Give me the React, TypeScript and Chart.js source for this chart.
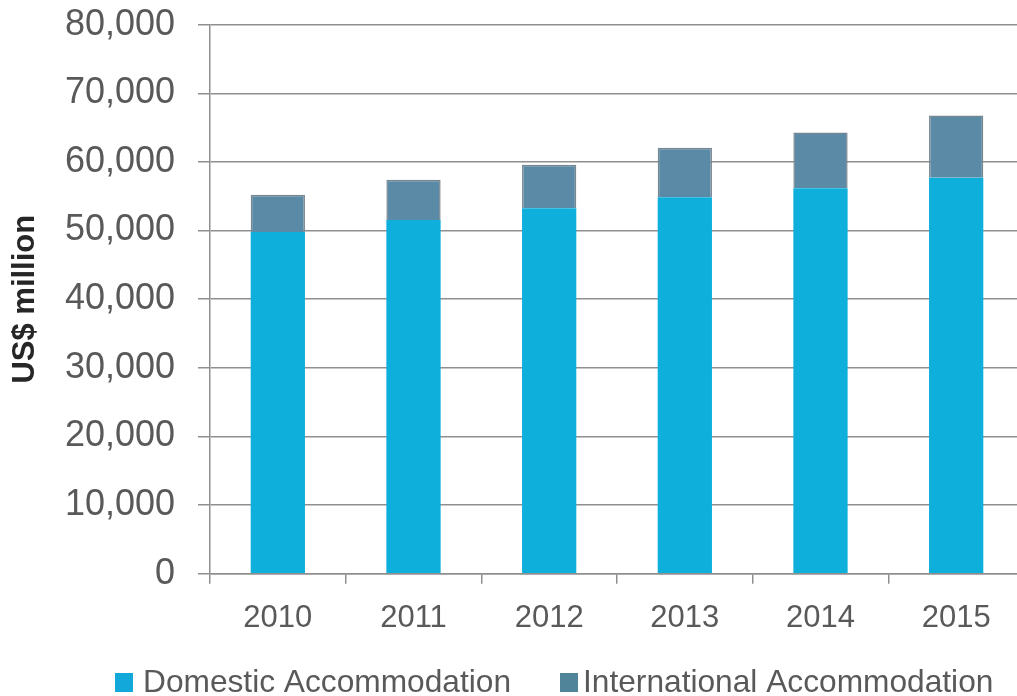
import React, { useEffect, useRef } from "react";
import { Chart, registerables } from "chart.js";

Chart.register(...registerables);

const years = ["2010", "2011", "2012", "2013", "2014", "2015"];
const domestic = [49800, 51550, 53250, 54850, 56150, 57700];
const international = [5400, 5850, 6350, 7200, 8150, 9050];
const seriesLabels = ["Domestic Accommodation", "International Accommodation"];
const yMin = 0;
const yMax = 80000;
const yStep = 10000;
const yTitle = "US$ million";

const FONT = "'Liberation Sans', Arial, Helvetica, sans-serif";
const DOM_COLOR = "#0EAFDB";
const INT_COLOR = "#5A8AA5";
const GRID = "#8f8f8f";
const SHIFT = 20;

const legendPlugin = {
  id: "customLegend",
  afterDraw(chart: any) {
    const ctx = chart.ctx;
    const items = [
      { box: 115, text: 143, label: seriesLabels[0], color: "#12A9DA" },
      { box: 560, text: 583, label: seriesLabels[1], color: "#4F8499" },
    ];
    ctx.save();
    ctx.font = `31.7px ${FONT}`;
    ctx.textBaseline = "middle";
    ctx.textAlign = "left";
    items.forEach((it) => {
      ctx.fillStyle = it.color;
      ctx.fillRect(it.box, 673 + SHIFT, 18, 19);
      ctx.fillStyle = "#595959";
      ctx.fillText(it.label, it.text, 683 + SHIFT);
    });
    ctx.restore();
  },
};

export default function App() {
  const ref = useRef<HTMLCanvasElement | null>(null);

  useEffect(() => {
    if (!ref.current) return;
    const chart = new Chart(ref.current, {
      type: "bar",
      data: {
        labels: years,
        datasets: [
          {
            label: seriesLabels[0],
            data: domestic,
            backgroundColor: DOM_COLOR,
            borderWidth: 0,
            categoryPercentage: 1,
            barPercentage: 0.4,
          },
          {
            label: seriesLabels[1],
            data: international,
            backgroundColor: INT_COLOR,
            borderColor: "#78868f",
            borderWidth: 1.5,
            categoryPercentage: 1,
            barPercentage: 0.4,
          },
        ],
      },
      options: {
        responsive: true,
        maintainAspectRatio: false,
        animation: false,
        layout: { padding: { top: 3.5, right: 0, bottom: 43, left: 0 } },
        plugins: {
          legend: { display: false },
          tooltip: { enabled: false },
        },
        scales: {
          x: {
            stacked: true,
            grid: {
              display: true,
              drawOnChartArea: false,
              drawTicks: true,
              tickLength: 10,
              color: GRID,
              lineWidth: 1.5,
              offset: true,
            },
            border: { color: GRID, width: 1.5 },
            ticks: {
              font: { family: FONT, size: 31 },
              color: "#595959",
              padding: 16,
            },
          },
          y: {
            stacked: true,
            min: yMin,
            max: yMax,
            grid: {
              color: GRID,
              lineWidth: 1.5,
              tickLength: 12,
            },
            border: { color: GRID, width: 1.5 },
            ticks: {
              stepSize: yStep,
              font: { family: FONT, size: 36 },
              color: "#595959",
              padding: 23,
              callback: (v: any) => Number(v).toLocaleString("en-US"),
            },
            title: {
              display: true,
              text: yTitle,
              font: { family: FONT, size: 31, weight: "bold" },
              color: "#262626",
              padding: { top: 6.4, bottom: 0 },
            },
            afterFit: (scale: any) => {
              scale.width = 210;
            },
          },
        },
      },
      plugins: [legendPlugin],
    });
    return () => chart.destroy();
  }, []);

  return (
    <div
      style={{
        position: "fixed",
        left: 0,
        top: 0,
        width: 1017,
        height: 696,
        overflow: "hidden",
        background: "#fff",
      }}
    >
      <div style={{ position: "absolute", left: 0, top: -SHIFT, width: 1024, height: 696 + SHIFT }}>
        <canvas ref={ref} />
      </div>
    </div>
  );
}
